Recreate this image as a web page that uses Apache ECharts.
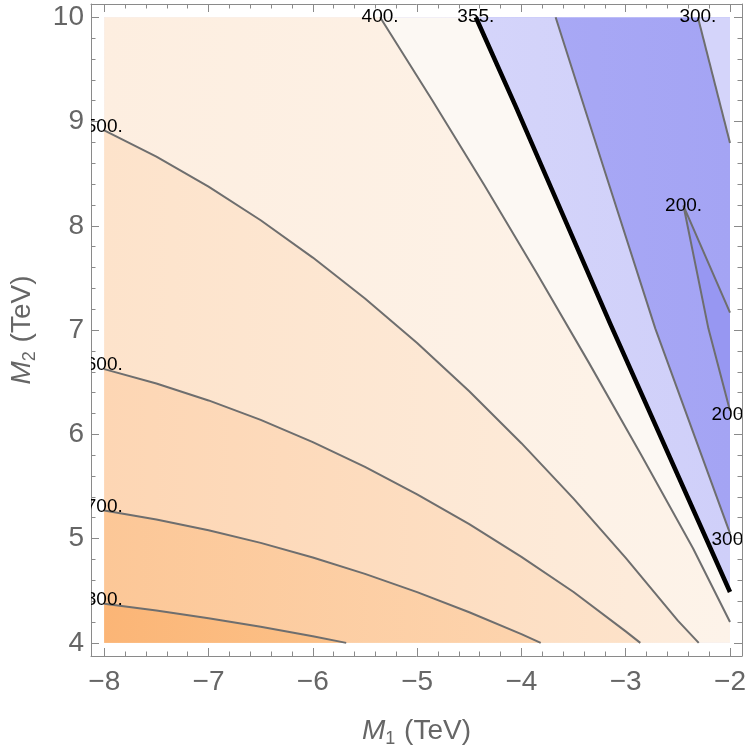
<!DOCTYPE html>
<html>
<head>
<meta charset="utf-8">
<script src="https://cdn.jsdelivr.net/npm/echarts@6/dist/echarts.min.js"></script>
<style>
html, body { margin: 0; padding: 0; background: #fff; }
#chart { width: 750px; height: 753px; }
</style>
</head>
<body>
<div id="chart"></div>
<script>
// contour lines, [M1, M2] in TeV
var c800 = [[-8, 4.376], [-7.5, 4.311], [-7, 4.237], [-6.5, 4.155], [-6, 4.063], [-5.68, 4.0]];
var c700 = [[-8, 5.27], [-7.5, 5.184], [-7, 5.08], [-6.5, 4.959], [-6, 4.819], [-5.5, 4.662],
  [-5, 4.487], [-4.5, 4.294], [-4, 4.084], [-3.815, 4.0]];
var c600 = [[-8, 6.625], [-7.5, 6.488], [-7, 6.325], [-6.5, 6.138], [-6, 5.925], [-5.5, 5.688],
  [-5, 5.425], [-4.5, 5.138], [-4, 4.825], [-3.5, 4.488], [-3, 4.11], [-2.86, 4.0]];
var c500 = [[-8, 8.915], [-7.5, 8.663], [-7, 8.375], [-6.5, 8.053], [-6, 7.695], [-5.5, 7.303],
  [-5, 6.875], [-4.5, 6.413], [-4, 5.915], [-3.5, 5.383], [-3, 4.815], [-2.5, 4.213], [-2.3, 4.0]];
var c400 = [[-5.355, 10], [-4.855, 9.204], [-4.355, 8.388], [-3.855, 7.549], [-3.355, 6.69],
  [-2.855, 5.809], [-2.355, 4.908], [-2.0, 4.2]];
var c355 = [[-4.437, 10], [-4.055, 9.145], [-3.146, 7.055], [-2.0, 4.488]];
var c300a = [[-3.672, 10], [-3.2, 8.52], [-2.716, 7.014], [-2.0, 5.05]];
var c300b = [[-2.308, 10], [-2.0, 8.794]];
var c200 = [[-2.0, 7.167], [-2.445, 8.188], [-2.207, 7.014], [-2.0, 6.226]];

var xTicks = [-8, -7, -6, -5, -4, -3, -2];
var yTicks = [4, 5, 6, 7, 8, 9, 10];
var xMinor = [-7.8, -7.6, -7.4, -7.2, -6.8, -6.6, -6.4, -6.2, -5.8, -5.6, -5.4, -5.2,
  -4.8, -4.6, -4.4, -4.2, -3.8, -3.6, -3.4, -3.2, -2.8, -2.6, -2.4, -2.2];
var yMinor = [4.2, 4.4, 4.6, 4.8, 5.2, 5.4, 5.6, 5.8, 6.2, 6.4, 6.6, 6.8,
  7.2, 7.4, 7.6, 7.8, 8.2, 8.4, 8.6, 8.8, 9.2, 9.4, 9.6, 9.8];

var X0 = -8, X1 = -2, Y0 = 4, Y1 = 10;

// filled regions, painted from the back: each one covers everything below-left of its line
function below(line) {
  var pts = [[X0, Y0]];
  if (line[0][1] === Y1) pts.push([X0, Y1]);
  pts = pts.concat(line);
  var last = line[line.length - 1];
  if (last[0] === X1 && last[1] > Y0) pts.push([X1, Y0]);
  return pts;
}
function grad(a, b) {
  return new echarts.graphic.LinearGradient(0, 0, 1, 0, [
    { offset: 0, color: a }, { offset: 1, color: b }
  ]);
}
var layers = [
  { pts: [[X0, Y0], [X0, Y1], [X1, Y1], [X1, Y0]], color: grad('#b2b2f8', '#a4a4f4') },
  { pts: c200, color: '#9797f2' },
  { pts: c300b.concat([[X1, Y1]]), color: '#d4d4fa' },
  { pts: below(c300a), color: grad('#dcdcfc', '#cfcff9') },
  { pts: below(c355), color: '#fcf8f3' },
  { pts: below(c400), color: grad('#fdeee0', '#fdf3e9') },
  { pts: below(c500), color: grad('#fde3cb', '#fdecdc') },
  { pts: below(c600), color: grad('#fdd6b4', '#fde2c9') },
  { pts: below(c700), color: grad('#fcc797', '#fdd4ae') },
  { pts: below(c800), color: grad('#fbb576', '#fcc28a') }
];

var lines = [
  { pts: c800, color: '#6e6e6e', width: 2 },
  { pts: c700, color: '#6e6e6e', width: 2 },
  { pts: c600, color: '#6e6e6e', width: 2 },
  { pts: c500, color: '#6e6e6e', width: 2 },
  { pts: c400, color: '#6e6e6e', width: 2 },
  { pts: c355, color: '#000000', width: 4.5 },
  { pts: c300a, color: '#6e6e6e', width: 2 },
  { pts: c300b, color: '#6e6e6e', width: 2 },
  { pts: c200, color: '#6e6e6e', width: 2 }
];

var contourLabels = [
  { p: c800[0], text: '800.', dy: -4 },
  { p: c700[0], text: '700.', dy: -4 },
  { p: c600[0], text: '600.', dy: -4 },
  { p: c500[0], text: '500.', dy: -4 },
  { p: c400[0], text: '400.', dy: 0 },
  { p: c355[0], text: '355.', dy: 0 },
  { p: c300b[0], text: '300.', dy: 0 },
  { p: c200[1], text: '200.', dy: 0 },
  { p: c200[3], text: '200.', dy: 4 },
  { p: c300a[3], text: '300.', dy: 6 }
];

var FONT = '"Liberation Sans", Arial, sans-serif';
var GRAY = '#666666';
var FRAME = '#8a8a8a';

function minus(v) { return (v < 0 ? '\u2212' : '') + Math.abs(v); }

function axisName(sub) {
  return {
    name: '{i|M}{s|' + sub + '} (TeV)',
    nameLocation: 'middle',
    nameTextStyle: {
      color: GRAY, fontSize: 28, fontFamily: FONT,
      rich: {
        i: { fontStyle: 'italic', fontSize: 28, color: GRAY, fontFamily: FONT },
        s: { fontSize: 18, color: GRAY, fontFamily: FONT, padding: [16, 1, 0, 0] }
      }
    }
  };
}

function xAxis(pos, major, extra) {
  var a = {
    type: 'value', min: -8.127, max: -1.885, position: pos,
    splitLine: { show: false },
    axisLine: { show: major, lineStyle: { color: FRAME, width: 1 } },
    axisTick: { show: true, inside: true, length: major ? 8 : 4.5,
      customValues: major ? xTicks : xMinor, lineStyle: { color: FRAME } },
    axisLabel: { show: false, customValues: xTicks }
  };
  return Object.assign(a, extra || {});
}
function yAxis(pos, major, extra) {
  var a = {
    type: 'value', min: 3.874, max: 10.127, position: pos,
    splitLine: { show: false },
    axisLine: { show: major, lineStyle: { color: FRAME, width: 1 } },
    axisTick: { show: true, inside: true, length: major ? 8 : 4.5,
      customValues: major ? yTicks : yMinor, lineStyle: { color: FRAME } },
    axisLabel: { show: false, customValues: yTicks }
  };
  return Object.assign(a, extra || {});
}

var chart = echarts.init(document.getElementById('chart'), null, { renderer: 'canvas' });

var xMain = xAxis('bottom', true, axisName('1'));
xMain.nameGap = 58;
xMain.axisLabel = { show: true, customValues: xTicks, color: GRAY, fontSize: 28,
  fontFamily: FONT, margin: 12, formatter: minus };
var yMain = yAxis('left', true, axisName('2'));
yMain.nameGap = 52;
yMain.nameRotate = 90;
yMain.axisLabel = { show: true, customValues: yTicks, color: GRAY, fontSize: 28,
  fontFamily: FONT, margin: 7 };

var series = [{
  type: 'custom',
  z: 1,
  silent: true,
  data: layers.map(function (l) { return l.pts[0]; }),
  renderItem: function (params, api) {
    var layer = layers[params.dataIndex];
    return {
      type: 'polygon',
      shape: { points: layer.pts.map(function (p) { return api.coord(p); }) },
      style: { fill: layer.color }
    };
  }
}];

lines.forEach(function (l) {
  series.push({
    type: 'line', z: 2, silent: true,
    data: l.pts, showSymbol: false, symbol: 'none',
    lineStyle: { color: l.color, width: l.width, join: 'round' },
    clip: true
  });
});

series.push({
  type: 'custom',
  z: 3,
  silent: true,
  data: contourLabels.map(function (l) { return l.p; }),
  renderItem: function (params, api) {
    var lab = contourLabels[params.dataIndex];
    var pt = api.coord(lab.p);
    var cs = params.coordSys;
    return {
      type: 'group',
      clipPath: { type: 'rect', shape: { x: cs.x, y: cs.y, width: cs.width, height: cs.height } },
      children: [{
        type: 'text',
        x: pt[0], y: pt[1] + lab.dy,
        style: { text: lab.text, fill: '#000', font: '19px ' + FONT, align: 'center', verticalAlign: 'middle' }
      }]
    };
  }
});

chart.setOption({
  animation: false,
  backgroundColor: '#fff',
  grid: { left: 89, right: 8, top: 4, bottom: 95.5, containLabel: false },
  xAxis: [xMain, xAxis('bottom', false), xAxis('top', true), xAxis('top', false)],
  yAxis: [yMain, yAxis('left', false), yAxis('right', true), yAxis('right', false)],
  series: series
});
</script>
</body>
</html>
